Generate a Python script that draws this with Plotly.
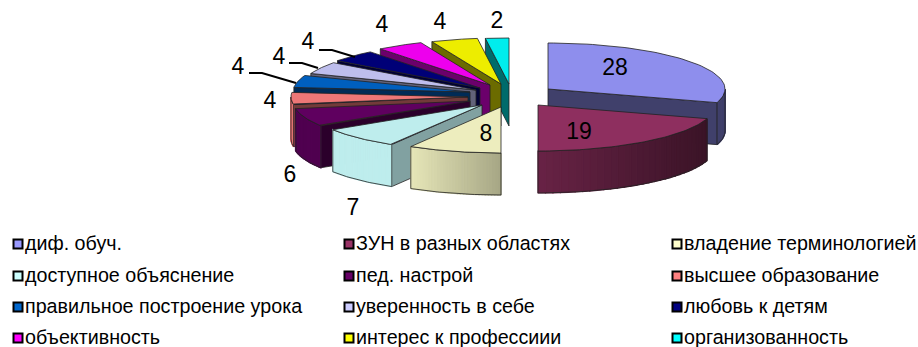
import numpy as np
import plotly.graph_objects as go

names = ["диф. обуч.", "ЗУН в разных областях", "владение терминологией",
         "доступное объяснение", "пед. настрой", "высшее образование",
         "правильное построение урока", "уверенность в себе", "любовь к детям",
         "объективность", "интерес к профессиии", "организованность"]
values = [28, 19, 8, 7, 6, 4, 4, 4, 4, 4, 4, 2]
colors = ["#9999FF", "#993366", "#FFFFCC", "#CCFFFF", "#660066", "#FF8080",
          "#0066CC", "#CCCCFF", "#000080", "#FF00FF", "#FFFF00", "#00FFFF"]

# layout of the exploded pie (pixels of the page)
apex = [(548, 89), (538, 105), (501, 107), (482, 105), (470, 101), (468, 97),
        (470, 92), (476, 90), (480, 88), (490, 85), (501, 84), (509, 84)]
RX, RY, DEPTH = 177, 46, 42
rim_shade = [(.42, .42), (.68, .38), (.90, .65), (.93, .93), (.78, .78), (.92, .92),
             (.7, .7), (.7, .7), (.7, .7), (.7, .7), (.7, .7), (.7, .7)]
cut_shade = [.42, .42, .42, .63, .42, .45, .42, .48, .42, .42, .42, .42]
label_pos = [(615, 69), (579, 133), (486, 135), (353, 209), (290, 176), (270, 102),
             (238, 68), (279, 58), (308, 43), (382, 26), (440, 23), (497, 22)]
leaders = {6: [(249, 73), (262, 73), (296, 83)],
           7: [(289, 63), (302, 63), (318, 68)],
           8: [(319, 50), (332, 50), (355, 57)]}
legend_x = [18, 349, 677]
legend_y = [244, 276, 307, 338]
LEGEND_TEXT_DX, LEGEND_TEXT_DY = 7, 1
TOP_SHADE = .93
EDGE = "#222222"


def shade(hex_color, f):
    r, g, b = (int(hex_color[i:i + 2], 16) for i in (1, 3, 5))
    return f"rgb({r * f:.0f},{g * f:.0f},{b * f:.0f})"


def arc(i, a0, a1, n=40, dy=0):
    t = np.radians(np.linspace(a0, a1, n))
    return apex[i][0] + RX * np.sin(t), apex[i][1] - RY * np.cos(t) + dy


fig = go.Figure()


def poly(xs, ys, fill, line=EDGE, width=.8):
    fig.add_trace(go.Scatter(
        x=list(xs) + [xs[0]], y=list(ys) + [ys[0]], mode="lines", fill="toself",
        fillcolor=fill, line=dict(color=line, width=width),
        hoverinfo="skip", showlegend=False))


edges = np.concatenate([[0], np.cumsum(values)]) / sum(values) * 360


def draw_slice(i):
    a0, a1 = edges[i], edges[i + 1]
    ax, ay = apex[i]
    base = colors[i]
    # cut face that looks towards the viewer
    cut = a1 if i == 0 else a0
    if i != 1 and abs(cut - 180) > .01:
        ex, ey = arc(i, cut, cut, 1)
        poly([ax, ex[0], ex[0], ax], [ay, ey[0], ey[0] + DEPTH, ay + DEPTH],
             shade(base, cut_shade[i]))
    # outer wall, as strips so that it can shade along its width
    lo, hi = max(a0, 90), min(a1, 270)
    if lo < hi:
        n = 30
        steps = np.linspace(lo, hi, n + 1)
        x_lo = RX * np.sin(np.radians(steps))
        for k in range(n):
            xa, ya = arc(i, steps[k], steps[k + 1], 4)
            xb, yb = arc(i, steps[k + 1], steps[k], 4, DEPTH)
            mid = (x_lo[k] + x_lo[k + 1]) / 2
            u = (mid - x_lo.min()) / max(x_lo.max() - x_lo.min(), 1e-6)
            f = rim_shade[i][0] + (rim_shade[i][1] - rim_shade[i][0]) * u
            c = shade(base, f)
            poly(list(xa) + list(xb), list(ya) + list(yb), c, line=c, width=1.2)
        xa, ya = arc(i, lo, hi)
        xb, yb = arc(i, hi, lo, dy=DEPTH)
        fig.add_trace(go.Scatter(
            x=list(xa) + list(xb) + [xa[0]], y=list(ya) + list(yb) + [ya[0]],
            mode="lines", line=dict(color=EDGE, width=.8),
            hoverinfo="skip", showlegend=False))
    # top
    xa, ya = arc(i, a0, a1, 60)
    poly([ax] + list(xa), [ay] + list(ya), shade(base, TOP_SHADE))


for i in list(range(11, 1, -1)) + [0, 1]:
    draw_slice(i)

for pts in leaders.values():
    fig.add_trace(go.Scatter(
        x=[p[0] for p in pts], y=[p[1] for p in pts], mode="lines",
        line=dict(color="#000000", width=2), hoverinfo="skip", showlegend=False))

fig.add_trace(go.Scatter(
    x=[p[0] for p in label_pos], y=[p[1] for p in label_pos], mode="text",
    text=[str(v) for v in values], textposition="middle center",
    textfont=dict(family="Liberation Sans", size=23, color="#000000"),
    hoverinfo="skip", showlegend=False))

for j, name in enumerate(names):
    lx, ly = legend_x[j % 3], legend_y[j // 3]
    fig.add_trace(go.Scatter(
        x=[lx], y=[ly], mode="markers",
        marker=dict(symbol="square", size=9, color=colors[j],
                    line=dict(color="#000000", width=2)),
        hoverinfo="skip", showlegend=False))
    fig.add_trace(go.Scatter(
        x=[lx + LEGEND_TEXT_DX], y=[ly + LEGEND_TEXT_DY], mode="text",
        text=[name], textposition="middle right",
        textfont=dict(family="Liberation Sans", size=19.7, color="#000000"),
        hoverinfo="skip", showlegend=False))

fig.update_layout(
    width=918, height=347, margin=dict(l=0, r=0, t=0, b=0),
    paper_bgcolor="white", plot_bgcolor="white", showlegend=False,
    xaxis=dict(range=[0, 918], visible=False),
    yaxis=dict(range=[347, 0], visible=False))
fig.write_html("out.html", config=dict(displayModeBar=False),
               post_script="document.body.style.margin='0';document.body.style.overflow='hidden';")
